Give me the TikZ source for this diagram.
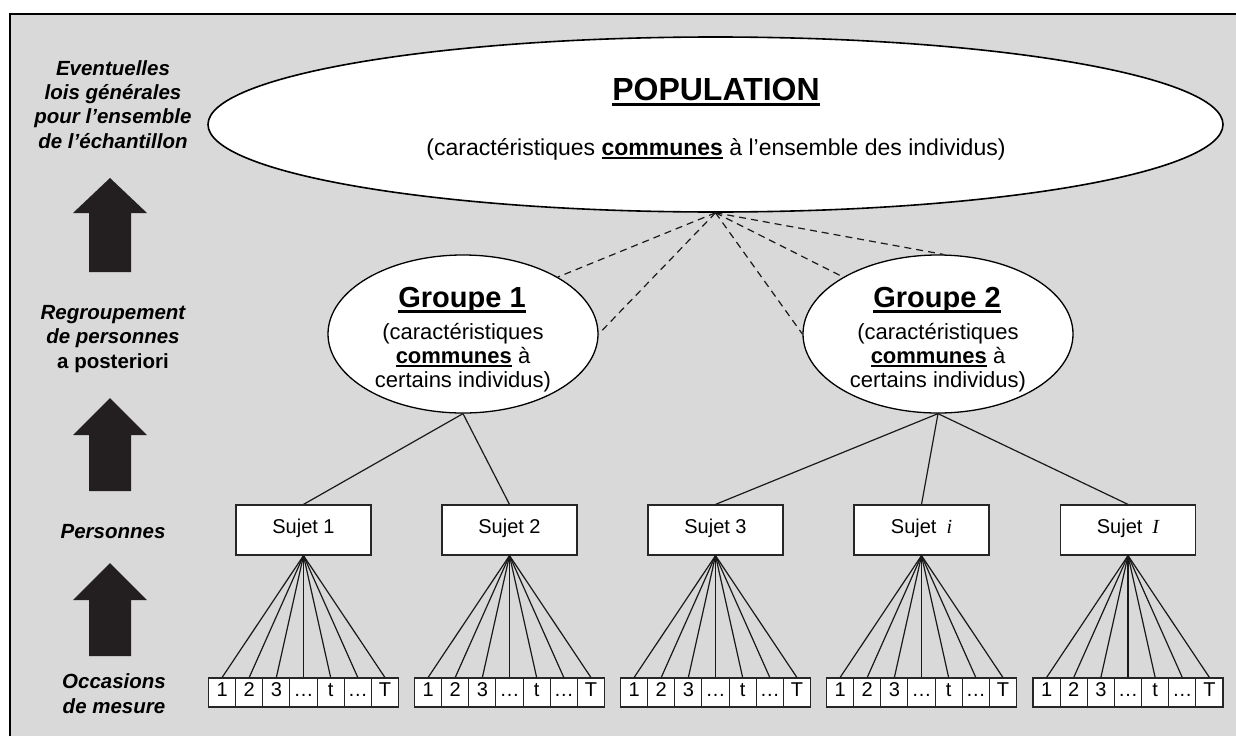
\documentclass[tikz,border=0pt]{standalone}
\usepackage{fontspec}
\setmainfont{Liberation Sans}
\newfontfamily\serifit{Liberation Serif}
\usepackage{tikz}
\usetikzlibrary{positioning, shapes.geometric}

\definecolor{paneGray}{HTML}{D9D9D9}
\definecolor{arrowInk}{HTML}{231F20}

\newcommand{\ulbox}[1]{\setbox0=\hbox{#1}\rlap{\rule[-0.19em]{\wd0}{0.09em}}\box0\relax}

\begin{document}
\begin{tikzpicture}[x=1pt, y=-1pt,
	bigellipse/.style={ellipse, draw=black, line width=1.6pt, fill=white, inner sep=0pt},
	tiername/.style={font=\fontsize{20.5}{24.3}\selectfont\bfseries\itshape, align=center, anchor=base},
	grouptext/.style={font=\fontsize{22}{24}\selectfont, align=center, anchor=base},
	sujetbox/.style={draw=black!85, line width=1.2pt, fill=white, minimum width=135pt, minimum height=50pt,
		inner sep=0pt, text height=0.72em, text depth=0pt, font=\fontsize{20}{24}\selectfont},
	cellbox/.style={draw=black!85, line width=1.1pt, fill=white, minimum width=27.14pt, minimum height=29pt,
		inner sep=0pt, text height=0.72em, text depth=0pt, font=\fontsize{20}{24}\selectfont},
	link/.style={draw=black!90, line width=1.2pt},
	dashlink/.style={draw=black!90, line width=1.2pt, dash pattern=on 7pt off 5pt},
	uparrow/.style={fill=arrowInk}]

	\useasboundingbox (0,0) rectangle (1236,736);
	\fill [paneGray] (10,14) rectangle (1236,736);
	\draw [line width=2pt] (10,736) -- (10,14) -- (1236,14);

	% levels on the left (base = last line)
	\node [tiername] (lvlpop) at (113,148) {Eventuelles\\lois générales\\pour l’ensemble\\de l’échantillon};
	\node [tiername] (lvlgrp) at (113,368) {Regroupement\\de personnes\\\upshape a posteriori};
	\node [tiername] (lvlsuj) at (113,538) {Personnes};
	\node [tiername] (lvlocc) at (114,713) {Occasions\\de mesure};

	\fill [uparrow] (89,272) -- (89,213) -- (73,213) -- (110,178) -- (147,213) -- (131,213) -- (131,272) -- cycle;
	\fill [uparrow] (89,491) -- (89,435) -- (73,435) -- (110,398) -- (147,435) -- (131,435) -- (131,491) -- cycle;
	\fill [uparrow] (89,656) -- (89,600) -- (73,600) -- (110,563) -- (147,600) -- (131,600) -- (131,656) -- cycle;

	% population and groups
	\node [bigellipse, minimum width=1015pt, minimum height=175pt] (pop) at (715.5,124.5) {};
	\node [font=\fontsize{32}{38}\selectfont\bfseries, anchor=base] (poptitle) at (716,100) {\ulbox{POPULATION}};
	\node [grouptext, font=\fontsize{23}{26}\selectfont] (popnote) at (716,155) {(caractéristiques \ulbox{\bfseries communes} à l’ensemble des individus)};

	\node [bigellipse, line width=1.3pt, minimum width=270pt, minimum height=158pt] (g1) at (463,334) {};
	\node [bigellipse, line width=1.3pt, minimum width=270pt, minimum height=158pt] (g2) at (938,334) {};
	\node [font=\fontsize{29}{34}\selectfont\bfseries, anchor=base] (g1title) at (462,307) {\ulbox{Groupe 1}};
	\node [font=\fontsize{29}{34}\selectfont\bfseries, anchor=base] (g2title) at (937,307) {\ulbox{Groupe 2}};
	\node [grouptext] (g1text) at (463,387) {(caractéristiques\\\ulbox{\bfseries communes} à\\certains individus)};
	\node [grouptext] (g2text) at (938,387) {(caractéristiques\\\ulbox{\bfseries communes} à\\certains individus)};

	\draw [dashlink] (pop.south) -- (g1.31);
	\draw [dashlink] (pop.south) -- (g1.east);
	\draw [dashlink] (pop.south) -- (g2.west);
	\draw [dashlink] (pop.south) -- (g2.149);
	\draw [dashlink] (pop.south) -- (g2.86);

	% subjects
	\node [sujetbox] (s1) at (303.5,530) {Sujet 1};
	\node [sujetbox] (s2) at (509.5,530) {Sujet 2};
	\node [sujetbox] (s3) at (715.5,530) {Sujet 3};
	\node [sujetbox] (s4) at (921.5,530) {Sujet\hspace{10pt}{\serifit\itshape i}};
	\node [sujetbox] (s5) at (1128,530) {Sujet\hspace{10pt}{\serifit\itshape I}};

	\draw [link] (g1.south) -- (s1.north);
	\draw [link] (g1.south) -- (s2.north);
	\draw [link] (g2.south) -- (s3.north);
	\draw [link] (g2.south) -- (s4.north);
	\draw [link] (g2.south) -- (s5.north);

	% occasions of measurement
	\foreach \s/\x in {1/303.5, 2/509.5, 3/715.5, 4/921.5, 5/1128} {
		\foreach \lab [count=\k] in {1,2,3,…,t,…,T} {
			\node [cellbox] (c\s-\k) at ({\x+(\k-4)*27.14},692.5) {\lab};
			\draw [link] (s\s.south) -- (c\s-\k.north);
		}
	}
\end{tikzpicture}
\end{document}
